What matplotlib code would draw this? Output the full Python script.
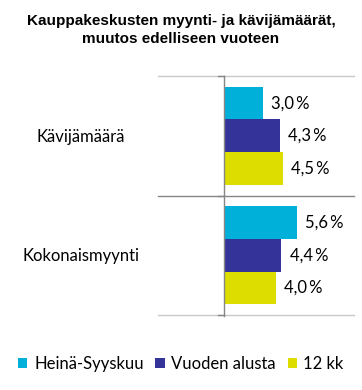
import matplotlib
matplotlib.use("Agg")
import matplotlib.pyplot as plt
from matplotlib.patches import Patch

categories = ["Kävijämäärä", "Kokonaismyynti"]
series_names = ["Heinä-Syyskuu", "Vuoden alusta", "12 kk"]
values = {
    "Heinä-Syyskuu": [3.0, 5.6],
    "Vuoden alusta": [4.3, 4.4],
    "12 kk": [4.5, 4.0],
}
colors = ["#00B0D8", "#333399", "#DDDD00"]
title = "Kauppakeskusten myynti- ja kävijämäärät,\nmuutos edelliseen vuoteen"

W, H = 362, 390
ax_l, ax_r, ax_t, ax_b = 224, 354, 76, 315
fig = plt.figure(figsize=(W/100, H/100), dpi=100)
ax = fig.add_axes([ax_l/W, 1-ax_b/H, (ax_r-ax_l)/W, (ax_b-ax_t)/H])

bar_h = 0.273
for i, name in enumerate(series_names):
    offs = (i - 1) * bar_h
    ys = [c + offs for c in range(len(categories))]
    bars = ax.barh(ys, values[name], height=bar_h, color=colors[i], edgecolor="none", zorder=2)
    for b, v in zip(bars, values[name]):
        ax.annotate(f"{v:.1f}".replace(".", ",") + "\u2009%",
                    xy=(b.get_width(), b.get_y() + b.get_height()/2),
                    xytext=(6, 0), textcoords="offset points",
                    ha="left", va="center", fontsize=12, family="Lato", color="#000000")

ax.set_xlim(0, 10)
ax.set_ylim(len(categories) - 0.5, -0.5)
ext = -(ax_l - 158) / (ax_r - ax_l)
tick = -(6) / (ax_r - ax_l)
for yb, col in [(-0.5, "#C8C8C8"), (0.5, "#868686"), (1.5, "#C8C8C8")]:
    ax.axhline(yb, xmin=ext, xmax=1, color=col, lw=1.0, clip_on=False, zorder=1)
    ax.axhline(yb, xmin=tick, xmax=0, color="#868686", lw=1.0, clip_on=False, zorder=1)
ax.axvline(0, ymin=-1/(ax_b-ax_t), ymax=1, color="#868686", lw=1.0, clip_on=False, zorder=3)
for s in ax.spines.values():
    s.set_visible(False)
ax.set_xticks([])
ax.set_yticks([])
for c, lab in enumerate(categories):
    fig.text(81/W, 1 - (137 + 119.5*c)/H, lab, ha="center", va="center",
             fontsize=12, family="Lato")

fig.text(0.5, 1 - 30/H, title, ha="center", va="center", fontsize=11,
         fontweight="bold", family="Liberation Sans", linespacing=1.3)

handles = [Patch(facecolor=c, edgecolor="none") for c in colors]
fig.legend(handles, series_names, loc="center", bbox_to_anchor=(0.5, 1 - 364/H),
           ncol=3, frameon=False, prop={"family": "Lato", "size": 12},
           handlelength=0.55, handleheight=0.55, handletextpad=0.4, columnspacing=0.7,
           borderaxespad=0)

fig.savefig("out.png", dpi=100)
